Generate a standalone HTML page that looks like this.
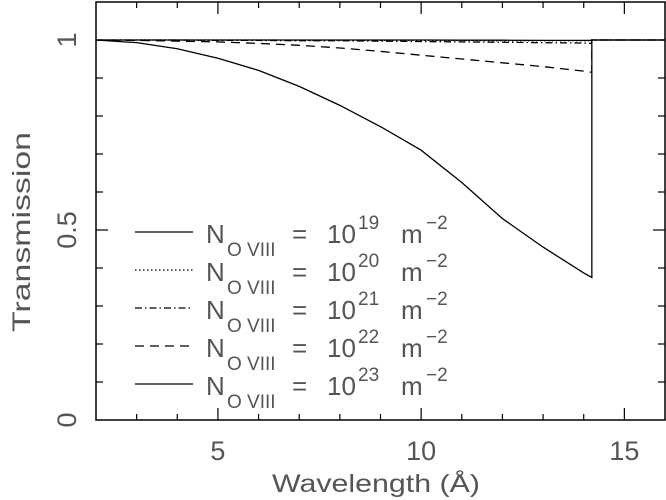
<!DOCTYPE html>
<html><head><meta charset="utf-8"><style>
html,body{margin:0;padding:0;background:#fff;}
svg{display:block;font-family:"Liberation Sans",sans-serif;}
</style></head><body>
<svg id="chart" width="666" height="500" viewBox="0 0 666 500">
<g id="axes"></g>
<g id="series"></g>
<g id="legend"></g>
<text x="0" y="0" transform="translate(30,232) rotate(-90)" text-anchor="middle" font-size="25" fill="#555" textLength="200" lengthAdjust="spacingAndGlyphs">Transmission</text>
<text x="376" y="492" text-anchor="middle" font-size="25" fill="#555" textLength="208" lengthAdjust="spacingAndGlyphs">Wavelength (Å)</text>
</svg>
<script>
const wavelengths = [2,3,4,5,6,7,8,9,10,11,12,13,14,14.2];
const t19 = [1,1,1,1,1,1,1,1,1,0.9995,0.9995,0.999,0.999,0.999];
const t20 = [1,1,1,1,1,0.9995,0.9995,0.999,0.999,0.999,0.998,0.998,0.998,0.998];
const t21 = [1,1,1,0.999,0.999,0.998,0.998,0.997,0.996,0.995,0.994,0.993,0.992,0.991];
const t22 = [1,0.999,0.997,0.995,0.991,0.986,0.979,0.97,0.96,0.95,0.94,0.93,0.918,0.915];
const t23 = [1,0.993,0.977,0.952,0.92,0.878,0.828,0.772,0.71,0.625,0.53,0.455,0.387,0.375];
const edgeEnd = 16;
const xTicks = [5,10,15];
const yTickLabels = ["0","0.5","1"];
const yTickValues = [0,0.5,1];
const legendExp = ["19","20","21","22","23"];

const NS="http://www.w3.org/2000/svg";
const X0=96,X1=665,Y0=420,Y1=40;
function sx(v){return X0+(v-2)*(X1-X0)/14;}
function sy(v){return Y0-(v)*(Y0-Y1);}
function mk(tag,attrs,parent){const e=document.createElementNS(NS,tag);for(const k in attrs)e.setAttribute(k,attrs[k]);parent.appendChild(e);return e;}
const axes=document.getElementById('axes');
const frame=mk('rect',{x:X0,y:2,width:X1-X0,height:Y0-2,fill:'none',stroke:'#000','stroke-width':1.5},axes);


for(let v=3;v<=15;v++){
  const len=(v%5===0)?12:6,x=sx(v);
  const t1=mk('line',{x1:x,x2:x,y1:Y0,y2:Y0-len,stroke:'#000','stroke-width':1.2},axes);
  
  
  const t2=mk('line',{x1:x,x2:x,y1:2,y2:2+len,stroke:'#000','stroke-width':1.2},axes);
  
  
}
for(let i=1;i<10;i++){
  const v=i/10,len=(i===5)?12:7,y=sy(v);
  const t1=mk('line',{x1:X0,x2:X0+len,y1:y,y2:y,stroke:'#000','stroke-width':1.2},axes);
  
  
  const t2=mk('line',{x1:X1,x2:X1-len,y1:y,y2:y,stroke:'#000','stroke-width':1.2},axes);
  
  
}
xTicks.forEach(v=>{
  const t=mk('text',{x:sx(v),y:460,'text-anchor':'middle','font-size':27,fill:'#555'},axes);
  t.textContent=v;
  
  
});
yTickValues.forEach((v,i)=>{
  const t=mk('text',{x:0,y:0,transform:`translate(76,${sy(v)}) rotate(-90)`,'text-anchor':'middle','font-size':27,fill:'#555'},axes);
  t.textContent=yTickLabels[i];
  
  
});
const ser=document.getElementById('series');
const styles=[
 {d:t19,dash:'',name:'series-1e19'},
 {d:t20,dash:'1.5 2.5',name:'series-1e20'},
 {d:t21,dash:'7 3 1.5 3',name:'series-1e21'},
 {d:t22,dash:'9 6',name:'series-1e22'},
 {d:t23,dash:'',name:'series-1e23'}];
styles.forEach(s=>{
  let pts=wavelengths.map((w,i)=>sx(w)+','+sy(s.d[i]));
  const last=wavelengths[wavelengths.length-1];
  pts.push(sx(last)+','+sy(1));
  pts.push(sx(edgeEnd)+','+sy(1));
  const p=mk('polyline',{points:pts.join(' '),fill:'none',stroke:'#000','stroke-width':1.3,'stroke-dasharray':s.dash},ser);
  
  
});
const lg=document.getElementById('legend');
const legDash=['','1.5 2.5','7 3 1.5 3','9 6',''];
legendExp.forEach((e,i)=>{
  const y=232+i*38;
  const g=mk('g',{},lg);
  
  
  mk('line',{x1:135,x2:193,y1:y,y2:y,stroke:'#000','stroke-width':1.3,'stroke-dasharray':legDash[i]},g);
  const t=mk('text',{x:206,y:y+11,'font-size':26,fill:'#555'},g);
  t.innerHTML=`N<tspan x="227" font-size="19" dy="13">O VIII</tspan><tspan x="292" font-size="26" dy="-13">=</tspan><tspan x="327">10</tspan><tspan x="358" font-size="19" dy="-14">${e}</tspan><tspan x="401" font-size="26" dy="14">m</tspan><tspan x="426" font-size="19" dy="-14">−2</tspan>`;
});
</script>
</body></html>
